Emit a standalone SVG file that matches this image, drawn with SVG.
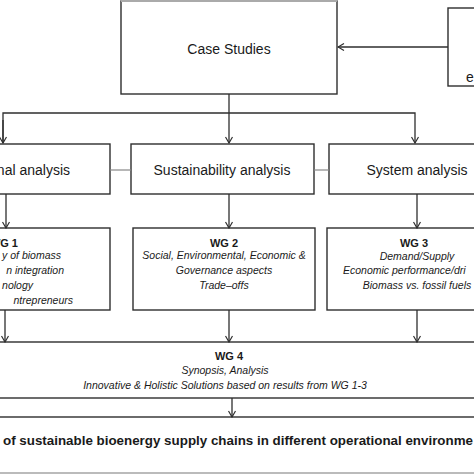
<svg xmlns="http://www.w3.org/2000/svg" width="474" height="474" viewBox="0 0 474 474">
<defs>
<style>
.box{fill:#fff;stroke:#2e2e2e;stroke-width:1.4}
.t{font-family:"Liberation Sans",Arial,sans-serif;fill:#1a1a1a}
.big{font-size:14px}
.hd{font-size:11px;font-weight:bold}
.it{font-size:10.5px;font-style:italic}
.fin{font-size:13.5px;font-weight:bold}
.c{stroke:#2e2e2e;stroke-width:1.3;fill:none}
.g{stroke:#888;stroke-width:1.2;fill:none}
</style>
<marker id="ah" markerWidth="8" markerHeight="8" refX="7" refY="4" orient="auto" markerUnits="userSpaceOnUse">
<path d="M1,0.5 L7,4 L1,7.5" fill="none" stroke="#2e2e2e" stroke-width="1.2"/>
</marker>
</defs>
<rect width="474" height="474" fill="#fff"/>

<g id="case-studies">
<rect class="box" x="121" y="1" width="216" height="93"/>
<line x1="121" y1="1" x2="337" y2="1" stroke="#aaa" stroke-width="2"/>
<text class="t big" x="229" y="54" text-anchor="middle">Case Studies</text>
</g>

<g id="external-box">
<rect class="box" x="448" y="8" width="40" height="78"/>
<text class="t big" x="466" y="82">e</text>
</g>

<g id="operational-analysis">
<rect class="box" x="-10" y="144" width="120" height="50"/>
<text class="t big" x="70" y="175" text-anchor="end">nal analysis</text>
</g>

<g id="sustainability-analysis">
<rect class="box" x="131" y="144" width="183" height="50"/>
<text class="t big" x="222" y="175" text-anchor="middle">Sustainability analysis</text>
</g>

<g id="system-analysis">
<rect class="box" x="329" y="144" width="160" height="50"/>
<text class="t big" x="417" y="175" text-anchor="middle">System analysis</text>
</g>

<g id="wg1">
<rect class="box" x="-10" y="228" width="120" height="82"/>
<text class="t hd" x="18" y="247" text-anchor="end">WG 1</text>
<text class="t it" x="61" y="259" text-anchor="end">y of biomass</text>
<text class="t it" x="64" y="274" text-anchor="end">n integration</text>
<text class="t it" x="33" y="289" text-anchor="end">nology</text>
<text class="t it" x="73" y="304" text-anchor="end">ntrepreneurs</text>
</g>

<g id="wg2">
<rect class="box" x="133" y="228" width="182" height="82"/>
<text class="t hd" x="224" y="247" text-anchor="middle">WG 2</text>
<text class="t it" x="224" y="259" text-anchor="middle">Social, Environmental, Economic &amp;</text>
<text class="t it" x="224" y="274" text-anchor="middle">Governance aspects</text>
<text class="t it" x="224" y="289" text-anchor="middle">Trade–offs</text>
</g>

<g id="wg3">
<rect class="box" x="327" y="228" width="160" height="82"/>
<text class="t hd" x="414" y="247" text-anchor="middle">WG 3</text>
<text class="t it" x="417" y="260" text-anchor="middle">Demand/Supply</text>
<text class="t it" x="343" y="274">Economic performance/dri</text>
<text class="t it" x="417" y="289" text-anchor="middle">Biomass vs. fossil fuels</text>
</g>

<g id="wg4">
<rect class="box" x="-5" y="342" width="484" height="56"/>
<text class="t hd" x="229" y="360" text-anchor="middle">WG 4</text>
<text class="t it" x="225" y="374" text-anchor="middle">Synopsis, Analysis</text>
<text class="t it" x="225" y="389" text-anchor="middle">Innovative &amp; Holistic Solutions based on results from WG 1-3</text>
</g>

<g id="outcome">
<rect class="box" x="-5" y="417" width="484" height="56"/>
<line x1="0" y1="473" x2="474" y2="473" stroke="#bbb" stroke-width="2"/>
<text class="t fin" x="3" y="445" textLength="470" lengthAdjust="spacingAndGlyphs">of sustainable bioenergy supply chains in different operational environme</text>
</g>

<g id="connectors">
<line class="c" x1="448" y1="47" x2="338" y2="47" marker-end="url(#ah)"/>
<line class="c" x1="229" y1="94" x2="229" y2="113"/>
<path class="c" d="M3,143 V113 H415 V143" marker-end="url(#ah)"/>
<line class="c" x1="3" y1="120" x2="3" y2="143" marker-end="url(#ah)"/>
<line class="c" x1="229" y1="113" x2="229" y2="143" marker-end="url(#ah)"/>
<line class="g" x1="110" y1="170" x2="131" y2="170"/>
<line class="g" x1="314" y1="170" x2="329" y2="170"/>
<line class="c" x1="6" y1="194" x2="6" y2="228" marker-end="url(#ah)"/>
<line class="c" x1="229" y1="194" x2="229" y2="228" marker-end="url(#ah)"/>
<line class="c" x1="417" y1="194" x2="417" y2="228" marker-end="url(#ah)"/>
<line class="c" x1="5" y1="310" x2="5" y2="342" marker-end="url(#ah)"/>
<line class="c" x1="229" y1="310" x2="229" y2="342" marker-end="url(#ah)"/>
<line class="c" x1="417" y1="310" x2="417" y2="342" marker-end="url(#ah)"/>
<line class="c" x1="232" y1="398" x2="232" y2="417" marker-end="url(#ah)"/>
</g>
</svg>
